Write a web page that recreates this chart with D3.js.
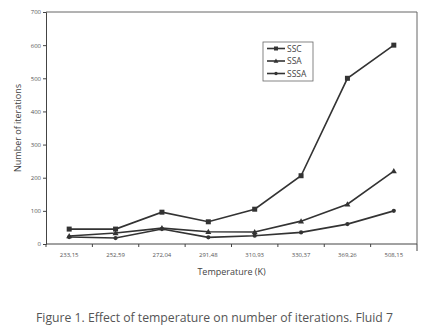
<!DOCTYPE html>
<html>
<head>
<meta charset="utf-8">
<script src="https://cdn.jsdelivr.net/npm/d3@7"></script>
<style>
  body { margin: 0; background: #fff; }
  text { font-family: "Open Sans", "DejaVu Sans", sans-serif; }
</style>
</head>
<body>
<div id="chart"></div>
<script>
/* DATA */
const temperatures = ["233,15", "252,59", "272,04", "291,48", "310,93", "330,37", "369,26", "508,15"];
const sscValues  = [45, 45, 96, 67, 105, 206, 500, 600];
const ssaValues  = [24, 33, 48, 37, 36, 69, 120, 220];
const sssaValues = [21, 18, 45, 20, 25, 35, 60, 100];
const yTicks = [0, 100, 200, 300, 400, 500, 600, 700];

const series = [
  { name: "SSC", values: sscValues, marker: "square" },
  { name: "SSA", values: ssaValues, marker: "triangle" },
  { name: "SSSA", values: sssaValues, marker: "circle" }
];

/* LAYOUT */
const width = 439, height = 335;
const margin = { top: 12, right: 22, bottom: 91, left: 46 };
const lineColor = "#333";
const textColor = "#555";

const svg = d3.select("#chart").append("svg")
  .attr("width", width)
  .attr("height", height);

const xScale = d3.scaleBand()
  .domain(temperatures)
  .range([margin.left, width - margin.right]);

const yScale = d3.scaleLinear()
  .domain([0, 700])
  .range([height - margin.bottom, margin.top]);

// frame (top and right)
svg.append("path")
  .attr("d", `M${margin.left},${margin.top}H${width - margin.right}V${height - margin.bottom}`)
  .attr("fill", "none")
  .attr("stroke", "#666")
  .attr("stroke-width", 1);

// y axis
const yAxisGroup = svg.append("g")
  .attr("transform", `translate(${margin.left},0)`)
  .call(d3.axisLeft(yScale).tickValues(yTicks).tickSize(3).tickPadding(2));
yAxisGroup.select(".domain").attr("stroke", "#444");
yAxisGroup.selectAll(".tick line").attr("stroke", "#444");
yAxisGroup.selectAll("text")
  .attr("font-size", 6)
  .attr("fill", textColor)
  .attr("font-family", "'Open Sans', sans-serif");

// x axis: ticks at band boundaries, labels at band centers
const xAxisGroup = svg.append("g")
  .attr("transform", `translate(0,${height - margin.bottom})`);
xAxisGroup.append("line")
  .attr("x1", margin.left).attr("x2", width - margin.right)
  .attr("stroke", "#444");
const boundaries = temperatures.map(t => xScale(t)).concat([width - margin.right]);
xAxisGroup.selectAll(".xtick")
  .data(boundaries)
  .join("line")
  .attr("class", "xtick")
  .attr("x1", d => d).attr("x2", d => d)
  .attr("y1", 0).attr("y2", (d, i) => i === boundaries.length - 1 ? 7 : 3)
  .attr("stroke", "#444");
xAxisGroup.selectAll(".xlabel")
  .data(temperatures)
  .join("text")
  .attr("class", "xlabel")
  .attr("x", d => xScale(d) + xScale.bandwidth() / 2)
  .attr("y", 13)
  .attr("text-anchor", "middle")
  .attr("font-size", 6)
  .attr("fill", textColor)
  .text(d => d);

// axis titles
svg.append("text")
  .attr("transform", `translate(21,${(margin.top + height - margin.bottom) / 2}) rotate(-90)`)
  .attr("text-anchor", "middle")
  .attr("font-size", 9)
  .attr("fill", "#444")
  .text("Number of iterations");

svg.append("text")
  .attr("x", (margin.left + width - margin.right) / 2)
  .attr("y", 275)
  .attr("text-anchor", "middle")
  .attr("font-size", 9)
  .attr("fill", "#444")
  .text("Temperature (K)");

// caption
svg.append("text")
  .attr("x", 214.5)
  .attr("y", 322)
  .attr("text-anchor", "middle")
  .attr("font-size", 12)
  .attr("fill", "#555")
  .attr("font-family", "'DejaVu Sans', sans-serif")
  .attr("textLength", 357)
  .attr("lengthAdjust", "spacingAndGlyphs")
  .text("Figure 1. Effect of temperature on number of iterations. Fluid 7");

/* LINES AND MARKERS */
const lineGen = d3.line()
  .x((d, i) => xScale(temperatures[i]) + xScale.bandwidth() / 2)
  .y(d => yScale(d));

function drawMarker(sel, type, size) {
  if (type === "square") {
    sel.append("rect")
      .attr("x", -size / 2).attr("y", -size / 2)
      .attr("width", size).attr("height", size)
      .attr("fill", lineColor);
  } else if (type === "triangle") {
    const s = size * 0.6;
    sel.append("path")
      .attr("d", `M0,${-s}L${s},${s * 0.75}L${-s},${s * 0.75}Z`)
      .attr("fill", lineColor);
  } else {
    sel.append("circle")
      .attr("r", size * 0.42)
      .attr("fill", lineColor);
  }
}

series.forEach(s => {
  svg.append("path")
    .datum(s.values)
    .attr("d", lineGen)
    .attr("fill", "none")
    .attr("stroke", lineColor)
    .attr("stroke-width", 1.6);

  svg.selectAll(`.pt-${s.name}`)
    .data(s.values)
    .join("g")
    .attr("class", `pt-${s.name}`)
    .attr("transform", (d, i) => `translate(${xScale(temperatures[i]) + xScale.bandwidth() / 2},${yScale(d)})`)
    .each(function () { drawMarker(d3.select(this), s.marker, 5); });
});

/* LEGEND */
const legend = svg.append("g").attr("transform", "translate(263,42)");
legend.append("rect")
  .attr("width", 50).attr("height", 39)
  .attr("fill", "#fff")
  .attr("stroke", "#666")
  .attr("stroke-width", 0.8);
series.forEach((s, i) => {
  const row = legend.append("g").attr("transform", `translate(0,${6.5 + i * 12.5})`);
  row.append("line")
    .attr("x1", 4).attr("x2", 22)
    .attr("stroke", lineColor).attr("stroke-width", 1.6);
  drawMarker(row.append("g").attr("transform", "translate(13,0)"), s.marker, 4);
  row.append("text")
    .attr("x", 24).attr("y", 3)
    .attr("font-size", 8.5)
    .attr("fill", "#444")
    .text(s.name);
});
</script>
</body>
</html>
